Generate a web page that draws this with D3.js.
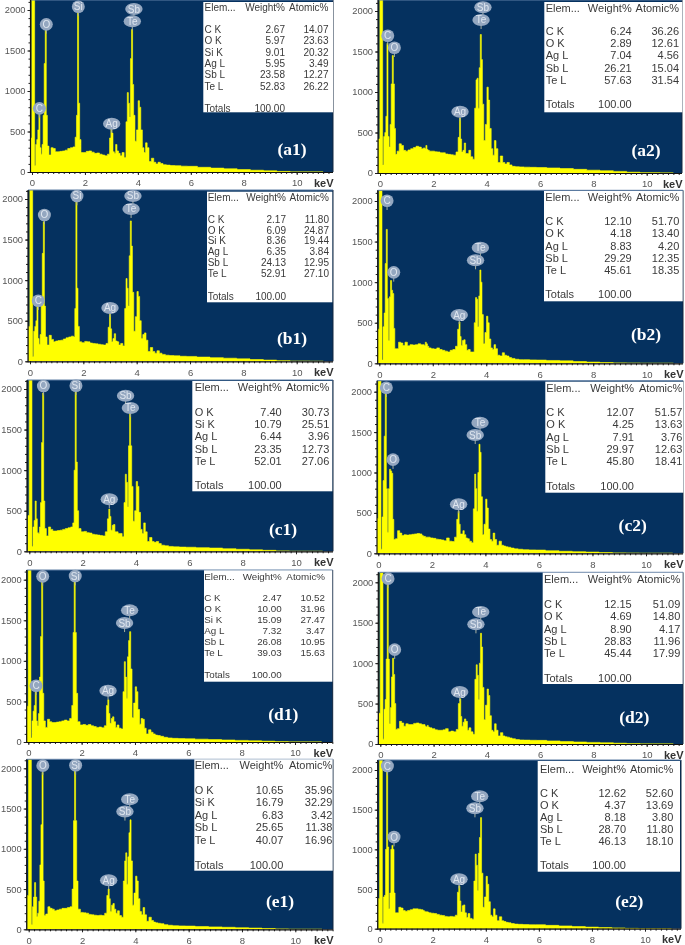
<!DOCTYPE html>
<html><head><meta charset="utf-8">
<style>html,body{margin:0;background:#fff}svg{display:block;filter:blur(0.35px)}</style>
<script src="https://cdn.jsdelivr.net/npm/d3@7"></script>
</head><body><svg id="c" width="685" height="945"></svg>
<script>
// shared energy channels (keV)
const energies=[-.05,.04,.08,.12,.16,.2,.24,.28,.32,.36,.4,.44,.48,.52,.56,.6,
.68,.76,.84,.92,1,1.1,1.2,1.3,1.4,1.5,1.6,
1.66,1.7,1.74,1.78,1.82,1.88,
2,2.1,2.2,2.3,2.4,2.5,2.6,2.7,2.8,
2.9,2.96,3,3.04,3.08,
3.14,3.18,3.24,3.3,3.36,3.44,3.52,
3.58,3.62,3.66,3.7,3.74,3.78,3.82,3.86,3.92,3.98,4.04,4.08,4.14,4.2,4.26,4.32,4.38,
4.46,4.56,4.64,4.72,4.8,
4.9,5,5.15,5.3,5.5,5.75,6,6.5,7,7.5,8,8.5,9,9.5,10,11];
const countsA1=[420,2600,2600,80,340,400,520,760,300,220,340,700,1340,1750,700,320,
210,300,290,250,250,255,260,270,290,300,310,
430,700,2100,850,400,240,
240,255,260,245,230,235,220,210,200,
220,420,550,480,250,
230,340,260,230,200,240,180,
620,980,850,680,1400,1760,1080,700,380,520,880,800,520,300,240,360,300,
130,170,120,100,120,
105,90,85,80,78,72,70,58,48,40,30,22,15,7,0,0];
const countsA2=[420,2600,2600,100,450,500,700,1600,450,320,600,1100,1450,1100,550,230,
270,360,340,280,270,285,300,315,330,320,300,
310,300,340,290,280,270,
270,262,260,250,250,235,230,225,220,
260,440,680,420,260,
280,370,240,240,280,200,170,
800,1150,1170,800,1300,1710,1400,850,400,600,1060,900,550,300,220,400,300,
130,210,130,110,130,
100,82,78,75,72,70,68,62,55,45,35,28,20,10,2,0];
const countsB1=[430,2600,2600,60,370,430,500,700,280,210,330,680,1330,1720,680,300,
200,320,270,240,250,255,260,275,290,300,310,
300,650,2150,900,430,240,
230,245,240,225,220,215,210,205,200,
220,420,580,400,240,
280,340,250,240,200,220,190,
650,1020,900,680,1300,1730,1420,850,370,550,860,800,500,280,330,350,260,
120,170,120,100,130,
100,85,75,70,68,62,60,52,45,38,30,22,15,8,2,0];
const countsB2=[420,2600,2600,40,450,620,1230,1650,800,280,820,1020,900,860,430,180,
180,260,250,220,260,215,230,225,230,240,230,
230,220,260,240,210,190,
180,175,190,170,160,150,140,160,170,
210,420,510,330,220,
280,290,230,160,170,140,140,
500,810,790,450,830,1150,1000,600,240,380,580,500,300,190,170,230,180,
100,90,130,100,90,
70,60,50,45,45,42,40,35,30,22,15,10,5,2,0,0];
const countsC1=[440,2600,2600,60,300,380,620,400,230,220,300,600,1340,1950,620,280,
190,300,270,250,250,255,260,270,280,290,300,
350,1000,2100,1100,500,280,
240,245,230,225,210,205,200,195,190,
240,400,520,430,260,
320,330,240,240,220,220,180,
600,950,850,550,1300,1700,1300,800,370,500,860,800,480,270,220,350,240,
120,170,120,110,120,
95,75,68,60,55,52,50,45,40,32,25,18,12,5,0,0];
const countsC2=[430,2600,2600,50,450,900,1450,2000,800,260,800,1040,1020,990,420,170,
180,280,250,220,230,225,230,235,240,245,240,
220,210,210,200,200,200,
190,185,175,170,165,155,190,150,145,
200,420,520,360,240,
240,280,230,190,180,150,130,
550,980,800,520,1000,1350,1250,700,230,360,670,560,300,170,150,250,170,
100,150,100,90,80,
75,65,55,50,45,42,40,32,25,20,15,10,5,2,0,0];
const countsD1=[440,2600,2600,50,260,380,450,650,260,200,350,800,1300,2000,600,260,
180,280,250,240,240,245,250,260,270,260,290,
450,1350,2200,1350,600,250,
210,215,205,215,200,190,180,185,175,
200,450,520,350,230,
290,310,250,180,210,170,160,
620,990,800,540,1050,1250,1360,900,300,480,680,620,400,220,290,280,170,
100,150,120,100,85,
80,70,58,50,45,42,40,35,30,25,20,15,10,4,0,0];
const countsD2=[380,2600,2600,60,430,550,1050,2000,1050,250,450,830,1060,860,500,180,
190,280,260,220,250,240,240,255,260,250,240,
240,220,210,230,210,200,
190,175,170,170,175,190,150,160,150,
180,500,560,340,220,
270,310,280,170,200,150,120,
800,980,850,550,1000,1370,1200,700,300,480,680,600,350,170,150,250,170,
100,140,100,90,85,
75,65,55,50,48,46,45,38,30,25,20,15,10,4,0,0];
const countsE1=[420,2600,2600,60,280,400,580,400,160,200,350,800,1300,1950,600,170,
190,280,260,250,230,240,250,260,260,270,280,
500,1350,2200,1350,600,250,
210,205,200,185,180,175,170,175,170,
200,420,500,380,220,
300,320,250,200,230,170,150,
600,850,950,560,900,1200,1360,850,300,450,660,600,380,220,180,270,180,
100,150,110,90,80,
75,70,58,50,45,42,40,35,30,25,20,15,10,4,0,0];
const countsE2=[380,2600,2600,70,400,420,1000,2000,1030,250,450,1000,1050,1000,450,200,
200,270,260,230,220,230,240,250,250,245,240,
230,220,210,215,210,200,
195,190,180,170,165,155,150,155,150,
170,460,540,350,210,
290,300,200,140,190,130,120,
600,940,800,480,950,1150,1400,700,270,400,660,560,340,170,150,250,170,
100,150,100,90,80,
75,65,58,55,52,50,50,42,35,28,20,15,10,4,0,0];

const panelNames=['(a1)','(a2)','(b1)','(b2)','(c1)','(c2)','(d1)','(d2)','(e1)','(e2)'];
const spectra=[countsA1,countsA2,countsB1,countsB2,countsC1,countsC2,countsD1,countsD2,countsE1,countsE2];

// EDS tables
const tableHeader=['Elem...','Weight%','Atomic%'];
const rowsA1=[['C K','2.67','14.07'],['O K','5.97','23.63'],['Si K','9.01','20.32'],['Ag L','5.95','3.49'],['Sb L','23.58','12.27'],['Te L','52.83','26.22']];
const rowsA2=[['C K','6.24','36.26'],['O K','2.89','12.61'],['Ag L','7.04','4.56'],['Sb L','26.21','15.04'],['Te L','57.63','31.54']];
const rowsB1=[['C K','2.17','11.80'],['O K','6.09','24.87'],['Si K','8.36','19.44'],['Ag L','6.35','3.84'],['Sb L','24.13','12.95'],['Te L','52.91','27.10']];
const rowsB2=[['C K','12.10','51.70'],['O K','4.18','13.40'],['Ag L','8.83','4.20'],['Sb L','29.29','12.35'],['Te L','45.61','18.35']];
const rowsC1=[['O K','7.40','30.73'],['Si K','10.79','25.51'],['Ag L','6.44','3.96'],['Sb L','23.35','12.73'],['Te L','52.01','27.06']];
const rowsC2=[['C K','12.07','51.57'],['O K','4.25','13.63'],['Ag L','7.91','3.76'],['Sb L','29.97','12.63'],['Te L','45.80','18.41']];
const rowsD1=[['C K','2.47','10.52'],['O K','10.00','31.96'],['Si K','15.09','27.47'],['Ag L','7.32','3.47'],['Sb L','26.08','10.95'],['Te L','39.03','15.63']];
const rowsD2=[['C K','12.15','51.09'],['O K','4.69','14.80'],['Ag L','8.90','4.17'],['Sb L','28.83','11.96'],['Te L','45.44','17.99']];
const rowsE1=[['O K','10.65','35.96'],['Si K','16.79','32.29'],['Ag L','6.83','3.42'],['Sb L','25.65','11.38'],['Te L','40.07','16.96']];
const rowsE2=[['C K','12.62','52.60'],['O K','4.37','13.69'],['Ag L','8.18','3.80'],['Sb L','28.70','11.80'],['Te L','46.13','18.10']];
const tableRows=[rowsA1,rowsA2,rowsB1,rowsB2,rowsC1,rowsC2,rowsD1,rowsD2,rowsE1,rowsE2];
const totalLabel='Totals', totalValue='100.00';

// peak labels: [element, keV, count at bubble centre]
const peaksA1=[['C',.28,786],['O',.54,1823],['Si',1.75,2041],['Ag',3.01,597],['Sb',3.85,2012],['Te',3.79,1860]];
const peaksA2=[['C',.29,1695],['O',.54,1547],['Ag',3,757],['Sb',3.86,2045],['Te',3.79,1889]];
const peaksB1=[['C',.31,747],['O',.54,1803],['Si',1.76,2037],['Ag',3,657],['Sb',3.86,2037],['Te',3.79,1877]];
const peaksB2=[['C',.29,2004],['O',.54,1121],['Ag',2.99,595],['Te',3.78,1425],['Sb',3.6,1269]];
const peaksC1=[['O',.53,2037],['Si',1.75,2041],['Ag',3,641],['Sb',3.61,1918],['Te',3.79,1766]];
const peaksC2=[['C',.3,2049],['O',.55,1159],['Ag',3,606],['Te',3.8,1616],['Sb',3.62,1464]];
const peaksD1=[['C',.29,694],['O',.54,2041],['Si',1.76,2045],['Ag',2.99,632],['Te',3.8,1622],['Sb',3.61,1466]];
const peaksD2=[['C',.29,2045],['O',.54,1167],['Ag',2.98,643],['Te',3.77,1633],['Sb',3.59,1480]];
const peaksE1=[['O',.53,2033],['Si',1.76,2037],['Ag',3,609],['Te',3.79,1615],['Sb',3.61,1462]];
const peaksE2=[['C',.29,2050],['O',.54,1155],['Ag',2.99,622],['Te',3.77,1668],['Sb',3.59,1517]];
const panelPeaks=[peaksA1,peaksA2,peaksB1,peaksB2,peaksC1,peaksC2,peaksD1,peaksD2,peaksE1,peaksE2];

const yTickValues=[0,500,1000,1500,2000];
const xTickValues=[0,2,4,6,8,10];

// layout (pixels), kept apart from the data
const frames=[ // x0,x10,y0,y2000,left,right,top
[32,296.7,172,10,30.5,333,0],
[380,646.7,173,11,378,682,0],
[30,296.7,361.3,199,28,333,190],
[379.3,646.7,363.3,201,377.7,683,190.3],
[29.3,296,551.3,389,27,333,380],
[378.3,646,553.3,391.7,377,683,380.7],
[28.3,295,742,579.7,26.7,332.7,570],
[380.3,646.7,744,582.3,378.3,683,572.3],
[28.7,295.3,929.3,768.3,26.7,333,759.3],
[379.7,645,928.7,770,377.7,681,760]];
const tableBoxes=[ // x1,y1,x2,y2,font,elemX,wR,aR,headY,firstY,rowDy,totalY
[203.3,2,333,112.3,10,204.5,285,328.5,7.5,29.5,11.3,108.5],
[544.3,2,682.3,112.3,11,545.7,631.7,679,8,31,12.25,104],
[207,191.7,332.3,302.3,10,207.7,286,329,197.3,219,10.9,296],
[544,191,682.7,301.3,11,545.3,631.7,679.3,197.3,221.3,12.2,294],
[192.3,381,332.3,491.3,11,194.7,281.7,329.3,387.3,411.7,12.3,485],
[545.3,381.7,683.3,492.7,11,546.3,634,682.3,387.7,412.3,12.2,486],
[204,570.3,332.3,681.7,9.8,204.3,281.7,325,576.3,597.7,10.9,674],
[542.7,572.7,682.7,684,11,544,631.7,680.3,579,604,12.3,678],
[194.3,759.3,332.7,870.7,11,194.7,283.3,332.3,765,790,12.5,864.7],
[537.7,761,680,871.7,11,540,626,673.3,769,792.7,12.2,865]];
const nameSpots=[[292,149],[646,150],[292,338],[646,334],[283,529],[632.7,525.7],[283.3,714],[634.3,717],[280,901.7],[629.3,901.7]];

const NAVY='#05315f', YEL='#ffff00';
const svg=d3.select('#c');
const sans='"Liberation Sans",Arial,sans-serif';

panelNames.forEach((name,i)=>{
  const [x0,x10,y0,y2k,L,R,T]=frames[i];
  const x=d3.scaleLinear().domain([0,10]).range([x0,x10]);
  const y=d3.scaleLinear().domain([0,2000]).range([y0,y2k]);
  const g=svg.append('g');
  g.append('rect').attr('x',L).attr('y',T).attr('width',R-L).attr('height',y0-T).attr('fill',NAVY);
  const clipId='clip'+i;
  g.append('clipPath').attr('id',clipId).append('rect').attr('x',L).attr('y',T).attr('width',R-L).attr('height',y0-T);
  const counts=spectra[i];
  const area=d3.area().curve(d3.curveStep).x((d,j)=>x(energies[j])).y0(y(0)).y1(d=>y(d));
  g.append('path').datum(counts).attr('clip-path',`url(#${clipId})`).attr('d',area).attr('fill',YEL).attr('stroke',YEL).attr('stroke-width',.6);

  // frame lines
  g.append('line').attr('x1',R).attr('x2',R).attr('y1',T).attr('y2',y0).attr('stroke','#12263f').attr('stroke-width',1);
  g.append('line').attr('x1',L).attr('x2',R).attr('y1',T).attr('y2',T).attr('stroke','#5f7fa5').attr('stroke-width',1);

  // axes
  const yMinor=d3.range(0,2101,100).filter(v=>y(v)>=T);
  const xMinor=d3.range(0,11.6,.2).filter(v=>x(v)<=R);
  const yAxis=g.append('g').attr('transform',`translate(${L},0)`)
    .call(d3.axisLeft(y).tickValues(yTickValues).tickFormat(d3.format('d')).tickSize(3).tickPadding(2));
  yAxis.select('.domain').remove();
  yAxis.selectAll('text').attr('font-family',sans).attr('font-size',9.3).attr('fill','#555');
  yAxis.selectAll('line').attr('stroke','#222');
  const yAxisMinor=g.append('g').attr('transform',`translate(${L},0)`)
    .call(d3.axisLeft(y).tickValues(yMinor).tickSize(2).tickFormat(''));
  yAxisMinor.select('.domain').remove();
  yAxisMinor.selectAll('line').attr('stroke','#222');
  const xAxis=g.append('g').attr('transform',`translate(0,${y0})`)
    .call(d3.axisBottom(x).tickValues(xTickValues).tickSize(3).tickPadding(4.5));
  xAxis.select('.domain').remove();
  xAxis.selectAll('text').attr('font-family',sans).attr('font-size',9.5).attr('fill','#555');
  xAxis.selectAll('line').attr('stroke','#222');
  const xAxisMinor=g.append('g').attr('transform',`translate(0,${y0})`)
    .call(d3.axisBottom(x).tickValues(xMinor).tickSize(2).tickFormat(''));
  xAxisMinor.select('.domain').remove();
  xAxisMinor.selectAll('line').attr('stroke','#222');
  g.append('line').attr('x1',L).attr('x2',L).attr('y1',T).attr('y2',y0+1).attr('stroke','#111').attr('stroke-width',1.2);
  g.append('line').attr('x1',L).attr('x2',R).attr('y1',y0+.5).attr('y2',y0+.5).attr('stroke','#111').attr('stroke-width',1.2);
  g.append('text').attr('x',R+.5).attr('y',y0+14.5).attr('text-anchor','end').attr('font-family',sans)
    .attr('font-weight','bold').attr('font-size',11).attr('fill','#333').text('keV');

  // peak bubbles
  panelPeaks[i].forEach(([el,ke,ct])=>{
    const cx=x(ke), cy=y(ct);
    const wide=el.length>1&&el!=='Si';
    const rx=wide?8.7:6.5, ry=wide?6:6.3;
    g.append('line').attr('x1',cx).attr('x2',cx).attr('y1',cy).attr('y2',cy+ry+3).attr('stroke','#a8b0a0').attr('stroke-width',1);
    g.append('ellipse').attr('cx',cx).attr('cy',cy).attr('rx',rx).attr('ry',ry).attr('fill','#94a7c0');
    g.append('text').attr('x',cx).attr('y',cy).attr('dy','.35em').attr('text-anchor','middle').attr('font-family',sans)
      .attr('font-size',10).attr('fill','#dfe6ef').text(el);
  });

  // table
  const [tx1,ty1,tx2,ty2,fs,ex,wr,ar,hy,fy,dy,ty]=tableBoxes[i];
  const t=g.append('g').attr('font-family',sans).attr('font-size',fs).attr('fill','#3a3a3a');
  t.append('rect').attr('x',tx1).attr('y',ty1).attr('width',tx2-tx1).attr('height',ty2-ty1).attr('fill','#fff');
  const put=(s,px,py,anchor)=>t.append('text').attr('x',px).attr('y',py).attr('dy','.36em').attr('text-anchor',anchor).text(s);
  put(tableHeader[0],ex,hy,'start');put(tableHeader[1],wr,hy,'end');put(tableHeader[2],ar,hy,'end');
  tableRows[i].forEach((r,k)=>{
    put(r[0],ex,fy+k*dy,'start');put(r[1],wr,fy+k*dy,'end');put(r[2],ar,fy+k*dy,'end');
  });
  put(totalLabel,ex,ty,'start');put(totalValue,wr,ty,'end');

  // panel name
  g.append('text').attr('x',nameSpots[i][0]).attr('y',nameSpots[i][1]).attr('dy','.33em').attr('text-anchor','middle')
    .attr('font-family','"Liberation Serif","Times New Roman",serif').attr('font-weight','bold').attr('font-size',17.5).attr('fill','#fff').text(name);
});
</script></body></html>
